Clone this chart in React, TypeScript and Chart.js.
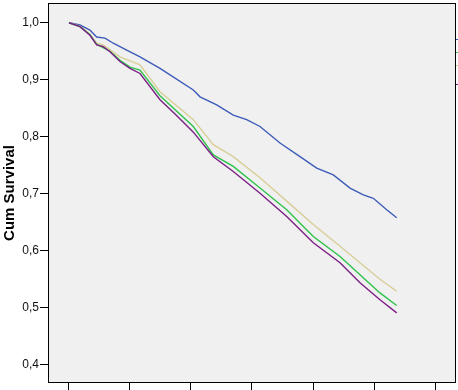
import React, { useEffect, useRef } from "react";
import { Chart, registerables } from "chart.js";

Chart.register(...registerables);

// Time axis in tick units (tick labels are cropped in the reference)
const xTicks = [0, 1, 2, 3, 4, 5, 6];
const yTicks = [0.4, 0.5, 0.6, 0.7, 0.8, 0.9, 1.0];

const blueX = [0, 0.18, 0.344, 0.454, 0.59, 0.726, 0.946, 1.164, 1.492, 2.038, 2.148, 2.421, 2.693, 2.913, 3.131, 3.459, 3.787, 4.061, 4.333, 4.607, 4.825, 4.989, 5.208, 5.372];
const blueY = [1.0, 0.996, 0.987, 0.975, 0.973, 0.964, 0.952, 0.94, 0.92, 0.882, 0.87, 0.856, 0.838, 0.83, 0.818, 0.789, 0.765, 0.745, 0.733, 0.71, 0.698, 0.692, 0.672, 0.658];

const tanX = [0, 0.18, 0.344, 0.454, 0.562, 0.836, 1.164, 1.492, 2.038, 2.366, 2.693, 3.131, 3.569, 4.005, 4.443, 4.77, 5.098, 5.372];
const tanY = [1.0, 0.994, 0.98, 0.964, 0.961, 0.94, 0.926, 0.879, 0.83, 0.786, 0.765, 0.728, 0.687, 0.646, 0.608, 0.579, 0.55, 0.529];

const greenX = [0, 0.18, 0.344, 0.454, 0.672, 0.836, 1.0, 1.164, 1.492, 2.038, 2.366, 2.693, 3.131, 3.569, 4.005, 4.443, 4.77, 5.098, 5.372];
const greenY = [1.0, 0.993, 0.979, 0.962, 0.95, 0.934, 0.922, 0.917, 0.872, 0.818, 0.768, 0.748, 0.71, 0.672, 0.625, 0.59, 0.558, 0.526, 0.504];

const purpleX = [0, 0.18, 0.344, 0.454, 0.562, 0.672, 0.836, 1.0, 1.164, 1.492, 1.738, 2.038, 2.366, 2.693, 3.131, 3.569, 4.005, 4.443, 4.77, 5.098, 5.372];
const purpleY = [1.0, 0.993, 0.978, 0.961, 0.958, 0.949, 0.932, 0.92, 0.911, 0.865, 0.84, 0.808, 0.765, 0.739, 0.701, 0.66, 0.614, 0.579, 0.544, 0.514, 0.491];

const BLUE = "#3d5bb8";
const GREEN = "#2ec24a";
const TAN = "#d8cf98";
const PURPLE = "#7b1f86";

const FONT = "'Liberation Sans', Arial, sans-serif";

const toPts = (xs: number[], ys: number[]) => xs.map((x, i) => ({ x, y: ys[i] }));

const frame = {
  id: "frame",
  beforeDraw(chart: any) {
    const { ctx, chartArea: a } = chart;
    ctx.save();
    ctx.fillStyle = "#f0f0f0";
    ctx.fillRect(a.left, a.top, a.right - a.left, a.bottom - a.top);
    ctx.restore();
  },
  afterDraw(chart: any) {
    const { ctx, chartArea: a } = chart;
    ctx.save();
    ctx.strokeStyle = "#000";
    ctx.lineWidth = 1;
    ctx.strokeRect(a.left + 0.5, a.top + 0.5, a.right - a.left - 1, a.bottom - a.top - 1);
    // legend remnants cut off at the right edge
    const cols = [BLUE, GREEN, TAN, PURPLE];
    const offs = [36, 49, 62, 81];
    cols.forEach((c, i) => {
      ctx.fillStyle = c;
      ctx.fillRect(a.right, a.top + offs[i], 3, 1);
    });
    ctx.restore();
  },
};

export default function App() {
  const ref = useRef<HTMLCanvasElement>(null);
  useEffect(() => {
    if (!ref.current) return;
    const ds = (label: string, xs: number[], ys: number[], color: string) => ({
      label,
      data: toPts(xs, ys),
      borderColor: color,
      backgroundColor: color,
      borderWidth: 1.4,
      pointRadius: 0,
      tension: 0,
      fill: false,
    });
    const chart = new Chart(ref.current, {
      type: "line",
      data: {
        datasets: [
          ds("4", purpleX, purpleY, PURPLE),
          ds("2", greenX, greenY, GREEN),
          ds("3", tanX, tanY, TAN),
          ds("1", blueX, blueY, BLUE),
        ],
      },
      options: {
        responsive: false,
        animation: false,
        layout: { padding: { top: 3, right: 2, bottom: 0, left: 0 } },
        plugins: { legend: { display: false }, tooltip: { enabled: false } },
        scales: {
          x: {
            type: "linear",
            min: -0.344,
            max: 6.344,
            afterBuildTicks: (s: any) => {
              s.ticks = xTicks.map((v) => ({ value: v }));
            },
            afterFit: (s: any) => {
              s.height = 7;
              s.paddingLeft = 0;
              s.paddingRight = 0;
              s.paddingTop = 0;
              s.paddingBottom = 0;
            },
            ticks: { display: false },
            grid: { drawOnChartArea: false, color: "#000", tickLength: 7, lineWidth: 1 },
            border: { display: false },
          },
          y: {
            type: "linear",
            min: 0.368,
            max: 1.0346,
            afterBuildTicks: (s: any) => {
              s.ticks = yTicks.map((v) => ({ value: v }));
            },
            afterFit: (s: any) => {
              s.width = 48;
              s.paddingTop = 0;
              s.paddingBottom = 0;
              s.paddingLeft = 0;
              s.paddingRight = 0;
            },
            ticks: {
              padding: 1,
              color: "#111",
              font: { family: FONT, size: 12 },
              callback: (v: any) => Number(v).toFixed(1).replace(".", ","),
            },
            grid: { drawOnChartArea: false, color: "#000", tickLength: 8, lineWidth: 1 },
            border: { display: false },
            title: {
              display: true,
              text: "Cum Survival",
              color: "#000",
              font: { family: FONT, size: 15, weight: "bold" },
              padding: { top: 1, bottom: 0 },
            },
          },
        },
      },
      plugins: [frame],
    });
    return () => chart.destroy();
  }, []);
  return (
    <div style={{ position: "absolute", left: 0, top: 0, width: 458, height: 390, background: "#fff" }}>
      <canvas ref={ref} width={458} height={390} style={{ display: "block" }} />
    </div>
  );
}
